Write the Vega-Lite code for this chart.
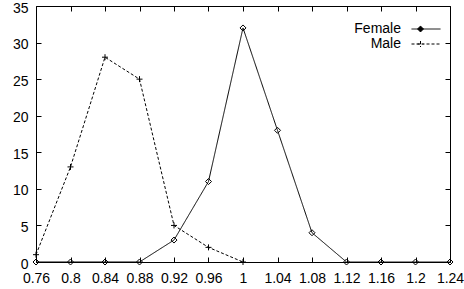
{
  "$schema": "https://vega.github.io/schema/vega-lite/v6.json",
  "width": 414,
  "height": 256,
  "autosize": {"type": "none"},
  "padding": {"left": 36, "top": 6, "right": 14, "bottom": 27},
  "background": "white",
  "config": {
    "view": {"stroke": "black", "strokeWidth": 1},
    "font": "Liberation Sans",
    "axis": {
      "domain": false,
      "grid": false,
      "tickColor": "black",
      "tickSize": -5,
      "labelColor": "black",
      "labelFont": "Liberation Sans",
      "labelFontSize": 14,
      "labelOverlap": false,
      "labelFlush": false,
      "title": null
    }
  },
  "data": {
    "values": [
      {"x": 0.76, "n": 0, "series": "Female"},
      {"x": 0.8, "n": 0, "series": "Female"},
      {"x": 0.84, "n": 0, "series": "Female"},
      {"x": 0.88, "n": 0, "series": "Female"},
      {"x": 0.92, "n": 3, "series": "Female"},
      {"x": 0.96, "n": 11, "series": "Female"},
      {"x": 1.0, "n": 32, "series": "Female"},
      {"x": 1.04, "n": 18, "series": "Female"},
      {"x": 1.08, "n": 4, "series": "Female"},
      {"x": 1.12, "n": 0, "series": "Female"},
      {"x": 1.16, "n": 0, "series": "Female"},
      {"x": 1.2, "n": 0, "series": "Female"},
      {"x": 1.24, "n": 0, "series": "Female"},
      {"x": 0.76, "n": 1, "series": "Male"},
      {"x": 0.8, "n": 13, "series": "Male"},
      {"x": 0.84, "n": 28, "series": "Male"},
      {"x": 0.88, "n": 25, "series": "Male"},
      {"x": 0.92, "n": 5, "series": "Male"},
      {"x": 0.96, "n": 2, "series": "Male"},
      {"x": 1.0, "n": 0, "series": "Male"}
    ]
  },
  "layer": [
    {
      "mark": {"type": "line", "stroke": "black", "strokeWidth": 1},
      "encoding": {
        "x": {
          "field": "x", "type": "quantitative",
          "scale": {"domain": [0.76, 1.24], "nice": false, "zero": false},
          "axis": {"orient": "bottom", "values": [0.76, 0.8, 0.84, 0.88, 0.92, 0.96, 1.0, 1.04, 1.08, 1.12, 1.16, 1.2, 1.24], "format": "~g", "labelPadding": 14}
        },
        "y": {
          "field": "n", "type": "quantitative",
          "scale": {"domain": [0, 35], "nice": false},
          "axis": {"orient": "left", "values": [0, 5, 10, 15, 20, 25, 30, 35], "labelPadding": 13, "labelOffset": 2}
        },
        "strokeDash": {
          "field": "series", "type": "nominal",
          "scale": {"domain": ["Female", "Male"], "range": [[1, 0], [3, 2]]},
          "legend": {
            "title": null,
            "orient": "none",
            "legendX": 383,
            "legendY": 16,
            "symbolSize": 100,
            "symbolStrokeWidth": 1,
            "symbolStrokeColor": "black",
            "symbolFillColor": "black",
            "labelAlign": "right",
            "labelOffset": -32,
            "labelFontSize": 14,
            "labelColor": "black",
            "labelFont": "Liberation Sans",
            "rowPadding": 1,
            "encode": {
              "symbols": {
                "update": {
                  "shape": {"signal": "datum.value === 'Female' ? 'M-2.9,0H2.9M-1.7,0L-1.1,-0.6L-0.5,0L-1.1,0.6Z' : 'M-2.9,0H2.9M-1.1,-0.6V0.6M-1.7,0H-0.5'"},
                  "fill": {"value": "black"},
                  "stroke": {"value": "black"}
                }
              }
            }
          }
        }
      }
    },
    {
      "transform": [{"filter": "datum.series === 'Female'"}],
      "mark": {"type": "point", "shape": "diamond", "filled": false, "stroke": "black", "strokeWidth": 1, "size": 36, "opacity": 1},
      "encoding": {
        "x": {
          "field": "x", "type": "quantitative",
          "axis": {"orient": "top", "values": [0.76, 0.8, 0.84, 0.88, 0.92, 0.96, 1.0, 1.04, 1.08, 1.12, 1.16, 1.2, 1.24], "labels": false}
        },
        "y": {
          "field": "n", "type": "quantitative",
          "axis": {"orient": "right", "values": [0, 5, 10, 15, 20, 25, 30, 35], "labels": false}
        }
      }
    },
    {
      "transform": [{"filter": "datum.series === 'Male'"}],
      "mark": {"type": "point", "shape": "M-1,0H1M0,-1V1", "filled": false, "stroke": "black", "strokeWidth": 1, "size": 36, "opacity": 1},
      "encoding": {
        "x": {"field": "x", "type": "quantitative", "axis": null},
        "y": {"field": "n", "type": "quantitative", "axis": null}
      }
    }
  ],
  "resolve": {"axis": {"x": "independent", "y": "independent"}}
}
